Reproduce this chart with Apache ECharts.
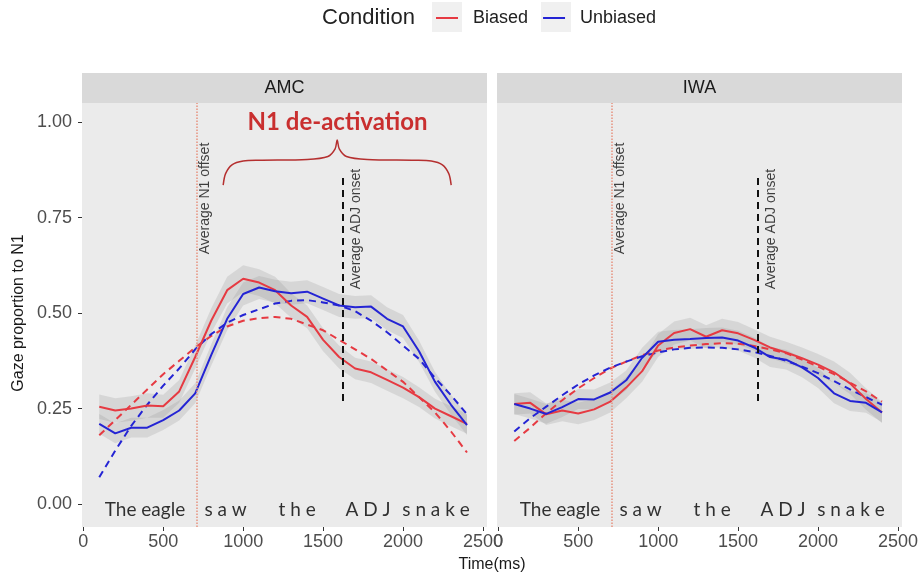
<!DOCTYPE html>
<html>
<head>
<meta charset="utf-8">
<script src="https://cdn.jsdelivr.net/npm/echarts@6/dist/echarts.min.js"></script>
<style>html,body{margin:0;padding:0;background:#fff}#c{width:921px;height:579px}</style>
</head>
<body>
<div id="c"></div>
<script>
// ---- data ----
const times = [100,200,300,400,500,600,700,800,900,1000,1100,1200,1300,1400,1500,1600,1700,1800,1900,2000,2100,2200,2300,2400];
// AMC
const amcBiased   = [0.255,0.245,0.25,0.258,0.256,0.295,0.385,0.48,0.56,0.59,0.58,0.56,0.52,0.49,0.43,0.385,0.355,0.345,0.325,0.305,0.28,0.25,0.23,0.21];
const amcUnbiased = [0.21,0.185,0.2,0.2,0.22,0.245,0.29,0.39,0.485,0.55,0.567,0.557,0.552,0.556,0.538,0.52,0.515,0.517,0.485,0.465,0.4,0.32,0.26,0.207];
const amcBiasedFit   = [0.18,0.22,0.26,0.30,0.34,0.375,0.41,0.44,0.465,0.48,0.487,0.49,0.485,0.47,0.455,0.43,0.405,0.38,0.35,0.32,0.28,0.24,0.19,0.135];
const amcUnbiasedFit = [0.07,0.14,0.205,0.26,0.31,0.355,0.405,0.445,0.475,0.495,0.51,0.525,0.532,0.534,0.528,0.52,0.505,0.48,0.45,0.415,0.38,0.33,0.285,0.235];
const amcBiasedSE   = [0.032,0.032,0.032,0.032,0.03,0.03,0.03,0.032,0.035,0.035,0.035,0.035,0.032,0.03,0.03,0.03,0.028,0.028,0.028,0.028,0.026,0.026,0.026,0.026];
const amcUnbiasedSE = [0.026,0.026,0.026,0.026,0.026,0.026,0.026,0.028,0.03,0.03,0.03,0.03,0.03,0.03,0.03,0.03,0.03,0.03,0.03,0.03,0.028,0.026,0.026,0.026];
// IWA
const iwaBiased   = [0.262,0.265,0.235,0.245,0.237,0.248,0.268,0.305,0.348,0.415,0.448,0.458,0.438,0.455,0.447,0.43,0.41,0.397,0.382,0.365,0.345,0.316,0.275,0.24];
const iwaUnbiased = [0.262,0.25,0.236,0.254,0.275,0.274,0.292,0.324,0.383,0.425,0.43,0.432,0.435,0.436,0.428,0.41,0.385,0.378,0.358,0.33,0.29,0.27,0.265,0.24];
const iwaBiasedFit   = [0.165,0.2,0.238,0.272,0.303,0.33,0.355,0.373,0.39,0.402,0.41,0.415,0.419,0.421,0.42,0.414,0.405,0.395,0.378,0.36,0.34,0.318,0.295,0.268];
const iwaUnbiasedFit = [0.19,0.225,0.255,0.285,0.313,0.337,0.357,0.373,0.387,0.397,0.405,0.409,0.41,0.409,0.405,0.398,0.388,0.375,0.36,0.343,0.322,0.3,0.28,0.26];
const iwaBiasedSE   = [0.028,0.028,0.028,0.028,0.028,0.028,0.028,0.028,0.028,0.03,0.03,0.03,0.03,0.03,0.03,0.028,0.028,0.028,0.028,0.028,0.028,0.028,0.028,0.028];
const iwaUnbiasedSE = [0.026,0.026,0.026,0.026,0.026,0.026,0.026,0.026,0.026,0.026,0.026,0.026,0.026,0.026,0.026,0.026,0.026,0.026,0.026,0.026,0.026,0.026,0.026,0.026];
// annotations
const panels = ['AMC','IWA'];
const xTicks = [0,500,1000,1500,2000,2500];
const yTicks = [0,0.25,0.5,0.75,1.0];
const n1Offset = 710;
const adjOnset = 1620;
const adjRange = [0.27,0.865];
const n1LabelPos = [762,0.80];
const adjLabelPos = [1705,0.72];
const words = ['The eagle','s a w','t h e','A D J','s n a k e'];
const wordTimes = [386,890,1338,1781,2206];
const wordY = -0.016;
const braceX = [875,890,930,1000,1100,1400,1530,1575,1588,1601,1646,1776,2076,2176,2246,2286,2301];
const braceY = [0.835,0.865,0.888,0.898,0.9,0.902,0.91,0.93,0.953,0.93,0.91,0.902,0.9,0.898,0.888,0.865,0.835];
const deactLabel = 'N1 de-activation';
const deactPos = [1590,1.0];

// ---- styling ----
const RED = '#e63a42', BLUE = '#2424d4';
const chart = echarts.init(document.getElementById('c'));
const grids = [
  {left:82, top:103, width:405, height:424, show:true, backgroundColor:'#ebebeb', borderWidth:0},
  {left:497, top:103, width:405, height:424, show:true, backgroundColor:'#ebebeb', borderWidth:0}
];
const xAxes = grids.map((g,i)=>({
  type:'value', gridIndex:i, min:-8, max:2525,
  axisLine:{show:false, onZero:false}, splitLine:{show:false},
  axisTick:{show:true, customValues:xTicks, length:4, lineStyle:{color:'#333'}},
  axisLabel:{customValues:xTicks, fontSize:18, color:'#4d4d4d', margin:6, fontFamily:'Liberation Sans',
    formatter:v=>String(v)}
}));
const yAxes = grids.map((g,i)=>({
  type:'value', gridIndex:i, min:-0.06, max:1.05,
  axisLine:{show:false, onZero:false}, splitLine:{show:false},
  axisTick:{show:i===0, customValues:yTicks, length:4, lineStyle:{color:'#333'}},
  axisLabel:{show:i===0, customValues:yTicks, fontSize:18, color:'#4d4d4d', margin:10, fontFamily:'Liberation Sans',
    formatter:v=>v.toFixed(2)}
}));
function pairs(xs, ys){ return xs.map((x,k)=>[x, ys[k]]); }
function band(gi, vals, se){
  return {type:'custom', xAxisIndex:gi, yAxisIndex:gi, silent:true, z:1, clip:true,
    data:[[times[0], vals[0]]],
    renderItem:(params, api)=>{
      const pts = [];
      for (let k=0;k<times.length;k++) pts.push(api.coord([times[k], vals[k]+se[k]]));
      for (let k=times.length-1;k>=0;k--) pts.push(api.coord([times[k], vals[k]-se[k]]));
      return {type:'polygon', shape:{points:pts}, style:{fill:'#8f8f8f', opacity:0.22}};
    }};
}
function lineS(gi, name, vals, color, dashed){
  return {type:'line', name:name, xAxisIndex:gi, yAxisIndex:gi, symbol:'none', silent:true,
    lineStyle:{color:color, width:2, type: dashed ? [7,5] : 'solid'}, itemStyle:{color:color},
    data: pairs(times, vals), z: dashed ? 3 : 4};
}
function annot(gi){
  return [
    {type:'line', xAxisIndex:gi, yAxisIndex:gi, data:[], silent:true, symbol:'none',
     markLine:{silent:true, symbol:'none', label:{show:false}, animation:false,
       data:[
         [{coord:[n1Offset,-0.06], lineStyle:{color:'#e8937f', type:'dotted', width:1.5}},{coord:[n1Offset,1.05]}],
         [{coord:[adjOnset,adjRange[0]], lineStyle:{color:'#111', type:[7,5], width:2}},{coord:[adjOnset,adjRange[1]]}]
       ]}},
    {type:'scatter', xAxisIndex:gi, yAxisIndex:gi, symbolSize:0, silent:true, z:6,
     data:[[n1LabelPos[0],n1LabelPos[1],'Average N1 offset'],[adjLabelPos[0],adjLabelPos[1],'Average ADJ onset']],
     label:{show:true, position:'inside', rotate:90, formatter:p=>p.data[2], fontSize:14, color:'#111', fontFamily:'Liberation Sans'}},
    {type:'scatter', xAxisIndex:gi, yAxisIndex:gi, symbolSize:0, silent:true, z:6,
     data: wordTimes.map((t,k)=>[t, wordY, words[k]]),
     label:{show:true, position:'inside', formatter:p=>p.data[2], fontSize:19, color:'#000', fontFamily:'Lato'}}
  ];
}
const series = [
  band(0,amcBiased,amcBiasedSE), band(0,amcUnbiased,amcUnbiasedSE),
  band(1,iwaBiased,iwaBiasedSE), band(1,iwaUnbiased,iwaUnbiasedSE),
  lineS(0,'Biased',amcBiased,RED,false), lineS(0,'Unbiased',amcUnbiased,BLUE,false),
  lineS(0,'Biased',amcBiasedFit,RED,true), lineS(0,'Unbiased',amcUnbiasedFit,BLUE,true),
  lineS(1,'Biased',iwaBiased,RED,false), lineS(1,'Unbiased',iwaUnbiased,BLUE,false),
  lineS(1,'Biased',iwaBiasedFit,RED,true), lineS(1,'Unbiased',iwaUnbiasedFit,BLUE,true),
  ...annot(0), ...annot(1),
  {type:'line', xAxisIndex:0, yAxisIndex:0, symbol:'none', smooth:0.3, silent:true, z:5,
   lineStyle:{color:'#b53030', width:1.5}, data: pairs(braceX, braceY)},
  {type:'scatter', xAxisIndex:0, yAxisIndex:0, symbolSize:0, silent:true, z:6,
   data:[[deactPos[0],deactPos[1],deactLabel]],
   label:{show:true, position:'inside', formatter:p=>p.data[2], fontSize:24, fontWeight:'bold', color:'#c00000', fontFamily:'Lato'}}
];
chart.setOption({
  animation:false,
  backgroundColor:'#fff',
  grid:grids, xAxis:xAxes, yAxis:yAxes,
  legend:{data:['Biased','Unbiased'], left:436, top:9, padding:0, icon:'rect', itemWidth:22, itemHeight:2, itemGap:15,
    selectedMode:false, textStyle:{fontSize:18, color:'#222', fontFamily:'Liberation Sans', padding:[0,0,0,10]}},
  graphic:[
    {type:'rect', shape:{x:432,y:2,width:30,height:30}, style:{fill:'#f0f0f0'}, z:-1},
    {type:'rect', shape:{x:541,y:2,width:30,height:30}, style:{fill:'#f0f0f0'}, z:-1},
    {type:'text', left:322, top:7, style:{text:'Condition', fontSize:22, fill:'#222', fontFamily:'Liberation Sans'}},
    {type:'rect', shape:{x:82,y:73,width:405,height:30}, style:{fill:'#d9d9d9'}},
    {type:'rect', shape:{x:497,y:73,width:405,height:30}, style:{fill:'#d9d9d9'}},
    {type:'text', x:284.5, y:88, style:{text:panels[0], fontSize:18, fill:'#1a1a1a', align:'center', verticalAlign:'middle', fontFamily:'Liberation Sans'}},
    {type:'text', x:699.5, y:88, style:{text:panels[1], fontSize:18, fill:'#1a1a1a', align:'center', verticalAlign:'middle', fontFamily:'Liberation Sans'}},
    {type:'text', x:19, y:313, rotation:Math.PI/2, style:{text:'Gaze proportion to N1', fontSize:16, fill:'#1a1a1a', align:'center', verticalAlign:'middle', fontFamily:'Liberation Sans'}},
    {type:'text', x:492, y:565, style:{text:'Time(ms)', fontSize:16, fill:'#1a1a1a', align:'center', verticalAlign:'middle', fontFamily:'Liberation Sans'}}
  ],
  series:series
});
</script>
</body>
</html>
